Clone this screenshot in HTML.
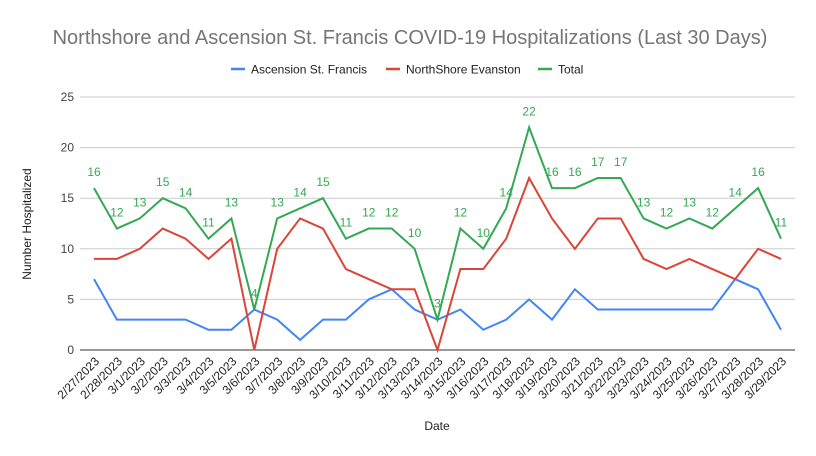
<!DOCTYPE html>
<html><head><meta charset="utf-8"><style>body{margin:0;background:#fff}svg{display:block}text{font-family:"Liberation Sans",Arial,sans-serif}</style></head><body>
<svg id="c" width="816" height="456" xmlns="http://www.w3.org/2000/svg"></svg>
<script>
const s=document.getElementById('c');let h='';
h+='<rect width="816" height="456" fill="#fff"/>';
h+='<text x="410" y="44" text-anchor="middle" font-size="20" fill="#757575">Northshore and Ascension St. Francis COVID-19 Hospitalizations (Last 30 Days)</text>';
const G='#34a853';
const lg=[[231,'#4285f4','Ascension St. Francis'],[386,'#db4437','NorthShore Evanston'],[538,G,'Total']];
lg.forEach(([x,c,t])=>{h+=`<line x1="${x}" y1="69" x2="${x+14}" y2="69" stroke="${c}" stroke-width="2.5"/><text x="${x+20}" y="73.5" font-size="12" fill="#222">${t}</text>`;});
const y0=350,k=10.12,x0=94,dx=22.9;
for(let v=0;v<=25;v+=5){const y=y0-v*k;h+=`<line x1="80" x2="795" y1="${y}" y2="${y}" stroke="${v?'#ccc':'#333'}" stroke-width="1"/><text x="74" y="${y+4}" text-anchor="end" font-size="12" fill="#444">${v}</text>`;}
h+=`<text transform="translate(31,224) rotate(-90)" text-anchor="middle" font-size="12" fill="#222">Number Hospitalized</text>`;
h+=`<text x="437" y="430" text-anchor="middle" font-size="12" fill="#222">Date</text>`;
const a=[7,3,3,3,3,2,2,4,3,1,3,3,5,6,4,3,4,2,3,5,3,6,4,4,4,4,4,4,7,6,2];
const n=[9,9,10,12,11,9,11,0,10,13,12,8,7,6,6,0,8,8,11,17,13,10,13,13,9,8,9,8,7,10,9];
const t=a.map((v,i)=>v+n[i]);
const pts=d=>d.map((v,i)=>`${x0+i*dx},${y0-v*k}`).join(' ');
h+=`<polyline points="${pts(a)}" fill="none" stroke="#4285f4" stroke-width="2"/>`;
h+=`<polyline points="${pts(n)}" fill="none" stroke="#db4437" stroke-width="2"/>`;
h+=`<polyline points="${pts(t)}" fill="none" stroke="${G}" stroke-width="2"/>`;
t.forEach((v,i)=>{h+=`<text x="${x0+i*dx}" y="${y0-v*k-12}" text-anchor="middle" font-size="12" fill="${G}">${v}</text>`;});
for(let i=0;i<31;i++){const d=new Date(2023,1,27+i);const lab=`${d.getMonth()+1}/${d.getDate()}/2023`;const x=x0+i*dx+6;h+=`<text transform="translate(${x},362) rotate(-45)" text-anchor="end" font-size="12" fill="#222">${lab}</text>`;}
s.innerHTML=h;
</script></body></html>
